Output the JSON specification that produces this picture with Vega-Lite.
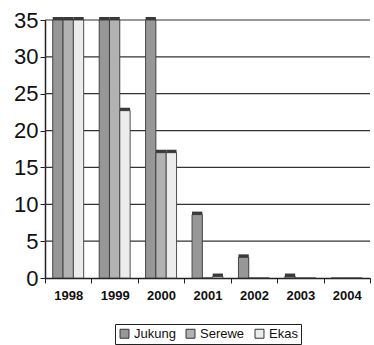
{
  "$schema": "https://vega.github.io/schema/vega-lite/v6.json",
  "width": 325,
  "height": 258,
  "autosize": "none",
  "padding": {"left": 45, "top": 20, "right": 4, "bottom": 67},
  "background": "white",
  "datasets": {
    "catch": [
      {"year": "1998", "site": "Jukung", "value": 35},
      {"year": "1998", "site": "Serewe", "value": 35},
      {"year": "1998", "site": "Ekas", "value": 35},
      {"year": "1999", "site": "Jukung", "value": 35},
      {"year": "1999", "site": "Serewe", "value": 35},
      {"year": "1999", "site": "Ekas", "value": 22.7},
      {"year": "2000", "site": "Jukung", "value": 35},
      {"year": "2000", "site": "Serewe", "value": 17},
      {"year": "2000", "site": "Ekas", "value": 17},
      {"year": "2001", "site": "Jukung", "value": 8.6},
      {"year": "2001", "site": "Serewe", "value": 0},
      {"year": "2001", "site": "Ekas", "value": 0.2},
      {"year": "2002", "site": "Jukung", "value": 2.8},
      {"year": "2002", "site": "Serewe", "value": 0},
      {"year": "2002", "site": "Ekas", "value": 0},
      {"year": "2003", "site": "Jukung", "value": 0.2},
      {"year": "2003", "site": "Serewe", "value": 0},
      {"year": "2003", "site": "Ekas", "value": 0},
      {"year": "2004", "site": "Jukung", "value": 0},
      {"year": "2004", "site": "Serewe", "value": 0},
      {"year": "2004", "site": "Ekas", "value": 0}
    ],
    "gridlines": [
      {"value": 5}, {"value": 10}, {"value": 15}, {"value": 20},
      {"value": 25}, {"value": 30}, {"value": 35}
    ]
  },
  "layer": [
    {
      "data": {"name": "gridlines"},
      "mark": {"type": "rule", "color": "#333", "strokeWidth": 1.2},
      "encoding": {
        "y": {
          "field": "value",
          "type": "quantitative",
          "scale": {"domain": [0, 35], "nice": false},
          "axis": {"title": null, "values": [0, 5, 10, 15, 20, 25, 30, 35]}
        }
      }
    },
    {
      "data": {"name": "catch"},
      "transform": [{"filter": "datum.value > 0"}],
      "mark": {"type": "bar", "xOffset": 3, "x2Offset": 3, "yOffset": -3, "y2Offset": 0, "fill": "#3a3a3a", "clip": false},
      "encoding": {
        "x": {
          "field": "year",
          "type": "nominal",
          "scale": {"paddingInner": 0, "paddingOuter": 0},
          "axis": {"title": null, "labelAngle": 0, "tickBand": "extent"}
        },
        "xOffset": {
          "field": "site",
          "type": "nominal",
          "sort": ["Jukung", "Serewe", "Ekas"],
          "scale": {"paddingInner": 0, "paddingOuter": 0.75}
        },
        "y": {
          "field": "value",
          "type": "quantitative",
          "axis": {"title": null, "values": [0, 5, 10, 15, 20, 25, 30, 35]}
        },
        "y2": {"datum": 0}
      }
    },
    {
      "data": {"name": "catch"},
      "mark": {"type": "bar", "stroke": "#333", "strokeWidth": 0.8},
      "encoding": {
        "x": {
          "field": "year",
          "type": "nominal",
          "axis": {"title": null, "labelAngle": 0, "tickBand": "extent"}
        },
        "xOffset": {"field": "site", "type": "nominal", "sort": ["Jukung", "Serewe", "Ekas"]},
        "y": {
          "field": "value",
          "type": "quantitative",
          "axis": {"title": null, "values": [0, 5, 10, 15, 20, 25, 30, 35]}
        },
        "color": {
          "field": "site",
          "type": "nominal",
          "sort": ["Jukung", "Serewe", "Ekas"],
          "scale": {"domain": ["Jukung", "Serewe", "Ekas"], "range": ["#979797", "#b2b2b2", "#ececec"]},
          "legend": {
            "title": null,
            "orient": "bottom",
            "direction": "horizontal",
            "symbolType": "square",
            "symbolSize": 80,
            "symbolStrokeColor": "#333",
            "symbolStrokeWidth": 1,
            "labelFont": "Liberation Sans",
            "labelFontSize": 13,
            "labelColor": "#111",
            "columnPadding": 8,
            "symbolOffset": 0,
            "labelOffset": 3,
            "padding": 3,
            "strokeColor": "#222",
            "offset": 22
          }
        }
      }
    }
  ],
  "config": {
    "view": {"stroke": null},
    "legend": {"layout": {"bottom": {"anchor": "middle"}}},
    "axis": {
      "labelColor": "#111",
      "tickColor": "#222",
      "tickSize": 5,
      "domainColor": "#222",
      "domainWidth": 1.5,
      "grid": false
    },
    "axisX": {
      "labelFont": "Liberation Sans",
      "labelFontWeight": "bold",
      "labelFontSize": 13,
      "labelPadding": 6
    },
    "axisY": {
      "labelFont": "Liberation Sans",
      "labelFontSize": 22,
      "labelPadding": 2
    }
  }
}
